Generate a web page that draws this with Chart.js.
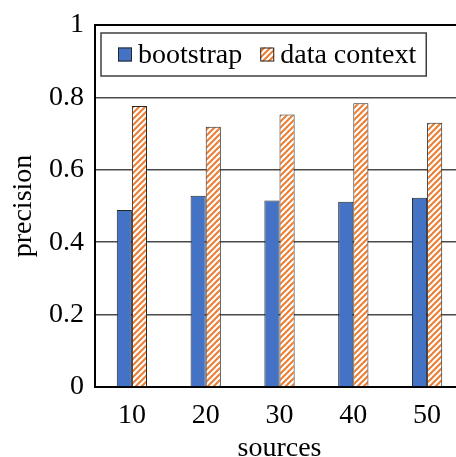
<!DOCTYPE html>
<html>
<head>
<meta charset="utf-8">
<script src="https://cdn.jsdelivr.net/npm/chart.js@4"></script>
<style>
  html, body { margin: 0; padding: 0; background: #fff; overflow: hidden; }
  #wrap { position: relative; width: 464px; height: 462px; }
</style>
</head>
<body>
<div id="wrap"><canvas id="precisionChart"></canvas></div>
<script>
// values
const categories = ['10', '20', '30', '40', '50'];
const bootstrap = [0.489, 0.528, 0.515, 0.512, 0.523];
const dataContext = [0.776, 0.719, 0.753, 0.784, 0.730];
const yTicks = [0, 0.2, 0.4, 0.6, 0.8, 1];

const FONT = 'Liberation Serif';
const SIZE = 28;
Chart.defaults.font.family = FONT;
Chart.defaults.color = '#000';

// orange diagonal hatch on white
function hatch() {
    const c = document.createElement('canvas');
    c.width = 6; c.height = 6;
    const g = c.getContext('2d');
    g.fillStyle = '#fff';
    g.fillRect(0, 0, 6, 6);
    g.strokeStyle = '#ED7D31';
    g.lineWidth = 2;
    g.beginPath();
    g.moveTo(-1, 7); g.lineTo(7, -1);
    g.moveTo(-4, 4); g.lineTo(4, -4);
    g.moveTo(2, 10); g.lineTo(10, 2);
    g.stroke();
    return g.createPattern(c, 'repeat');
}

// boxed legend inside the plot + top frame line
const boxLegend = {
    id: 'boxLegend',
    afterDraw(chart) {
        const ctx = chart.ctx;
        const area = chart.chartArea;
        ctx.save();
        ctx.strokeStyle = '#000';
        ctx.lineWidth = 2;
        ctx.beginPath();
        ctx.moveTo(area.left, area.top);
        ctx.lineTo(area.right, area.top);
        ctx.stroke();

        ctx.font = SIZE + 'px "' + FONT + '"';
        const sets = chart.data.datasets;
        const sq = 14, gap = 6, itemGap = 18, padL = 17, padR = 10;
        let w = padL + padR;
        sets.forEach((d, i) => {
            w += sq + gap + ctx.measureText(d.label).width + (i < sets.length - 1 ? itemGap : 0);
        });
        const x0 = area.left + 6, y0 = area.top + 8, h = 43;
        ctx.fillStyle = '#fff';
        ctx.fillRect(x0, y0, w, h);
        ctx.strokeStyle = '#404040';
        ctx.lineWidth = 1.5;
        ctx.strokeRect(x0, y0, w, h);

        let x = x0 + padL;
        const cy = y0 + h / 2;
        sets.forEach(d => {
            ctx.fillStyle = d.backgroundColor;
            ctx.fillRect(x, cy - sq / 2, sq, sq);
            ctx.strokeStyle = '#262626';
            ctx.lineWidth = 1;
            ctx.strokeRect(x + 0.5, cy - sq / 2 + 0.5, sq - 1, sq - 1);
            x += sq + gap;
            ctx.fillStyle = '#000';
            ctx.textBaseline = 'middle';
            ctx.textAlign = 'left';
            ctx.fillText(d.label, x, cy + 1);
            x += ctx.measureText(d.label).width + itemGap;
        });
        ctx.restore();
    }
};

const ctx = document.getElementById('precisionChart');
const chart = new Chart(ctx, {
    type: 'bar',
    data: {
        labels: categories,
        datasets: [{
            label: 'bootstrap',
            data: bootstrap,
            backgroundColor: '#4472C4',
            borderColor: '#262626',
            borderWidth: 1
        }, {
            label: 'data context',
            data: dataContext,
            backgroundColor: hatch(),
            borderColor: '#262626',
            borderWidth: 1
        }]
    },
    options: {
        responsive: true,
        maintainAspectRatio: false,
        animation: false,
        layout: { padding: { top: 10, left: 0, right: 0, bottom: 0 } },
        datasets: { bar: { categoryPercentage: 0.41, barPercentage: 1 } },
        plugins: {
            legend: { display: false },
            tooltip: { enabled: false }
        },
        scales: {
            x: {
                grid: { display: false, drawTicks: false },
                border: { display: true, color: '#000', width: 2 },
                ticks: { font: { size: SIZE, lineHeight: 1.0 }, padding: 15, color: '#000' },
                title: { display: true, text: 'sources', font: { size: SIZE, lineHeight: 1.0 }, padding: { top: -10, bottom: -1 }, color: '#000' }
            },
            y: {
                min: 0,
                max: 1,
                afterBuildTicks: axis => { axis.ticks = yTicks.map(v => ({ value: v })); },
                grid: { color: '#4a4a4a', lineWidth: 1.5, drawTicks: false },
                border: { display: true, color: '#000', width: 2 },
                ticks: { font: { size: SIZE, lineHeight: 1.0 }, padding: 11, color: '#000', callback: v => String(v) },
                title: { display: true, text: 'precision', font: { size: SIZE, lineHeight: 1.0 }, padding: { top: 10, bottom: 0 }, color: '#000' }
            }
        }
    },
    plugins: [boxLegend]
});
</script>
</body>
</html>
